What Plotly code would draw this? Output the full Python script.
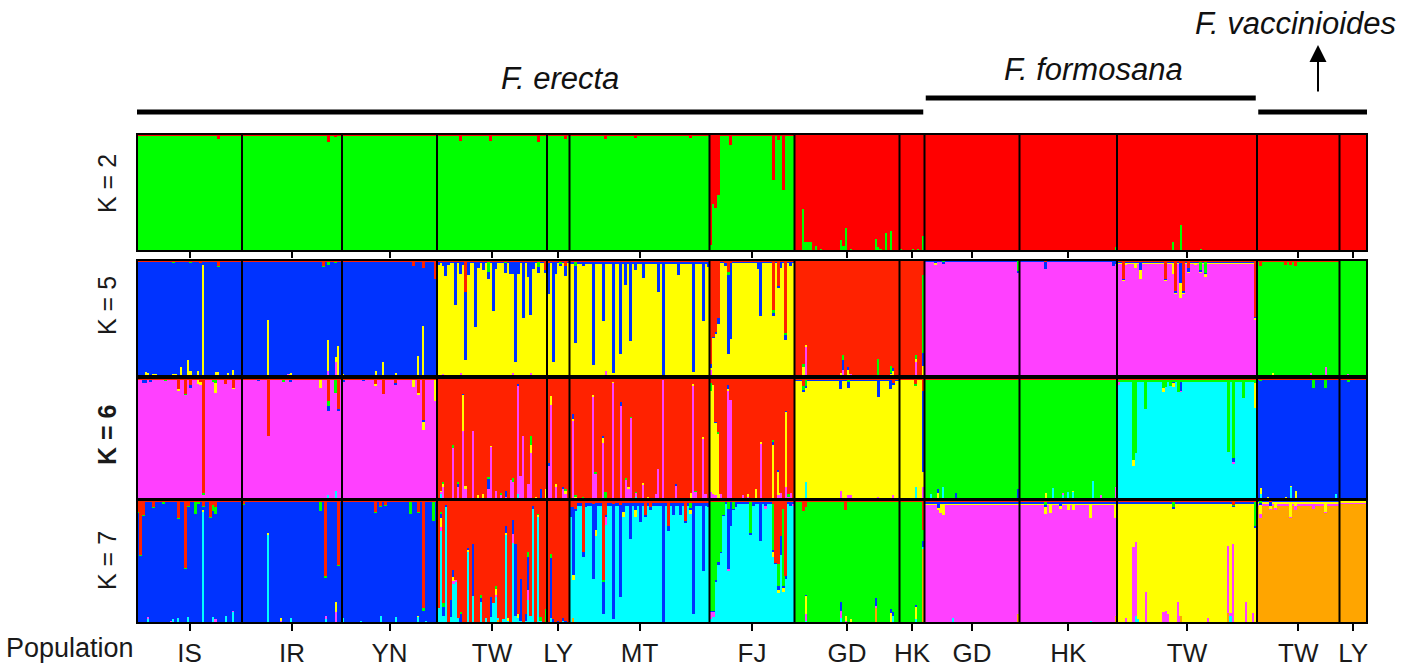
import plotly.graph_objects as go

W, H = 1418, 668

# ---------------- populations ----------------
POP_KEYS = ["IS", "IR", "YN", "TW_e", "LY_e", "MT", "FJ", "GD_e", "HK_e",
            "GD_f", "HK_f", "TW_f", "TW_v", "LY_v"]
POP_LABELS = ["IS", "IR", "YN", "TW", "LY", "MT", "FJ", "GD", "HK",
              "GD", "HK", "TW", "TW", "LY"]
POP_SIZES = [42, 40, 38, 44, 9, 56, 34, 42, 10, 38, 39, 56, 33, 11]

SPECIES = ["F. erecta", "F. formosana", "F. vaccinioides"]
SPECIES_POPS = [9, 3, 2]  # number of populations per species (in order)

COLORS = {"green": "#00FF00", "red2": "#FF0000", "red": "#FF2200",
          "blue": "#0033FF", "yellow": "#FFFF00", "pink": "#FF40FF",
          "cyan": "#00FFFF", "orange": "#FFA500"}

# ---------------- K = 2 ----------------
K2_CLUSTERS = ["green", "red2"]
K2_DOMINANT = ["green"] * 7 + ["red2"] * 7
K2_BASELINE = [{"red2": 0.012}] * 7 + [{}] * 7
K2_ADMIX = [
    ("IS", 32, {"red2": 0.04}),
    ("IR", 31, {"red2": 0.02}), ("IR", 34, {"red2": 0.07}), ("IR", 37, {"red2": 0.025}),
    ("YN", 23, {"red2": 0.015}),
    ("TW_e", 9, {"red2": 0.06}), ("TW_e", 21, {"red2": 0.06}), ("TW_e", 25, {"red2": 0.02}),
    ("TW_e", 37, {"red2": 0.02}), ("TW_e", 40, {"red2": 0.07}),
    ("LY_e", 5, {"red2": 0.02}), ("LY_e", 7, {"red2": 0.045}),
    ("MT", 2, {"red2": 0.02}), ("MT", 14, {"red2": 0.04}), ("MT", 26, {"red2": 0.03}),
    ("MT", 48, {"red2": 0.035}),
    ("FJ", 0, {"red2": 0.95}), ("FJ", 1, {"red2": 0.6}), ("FJ", 2, {"red2": 0.63}),
    ("FJ", 3, {"red2": 0.52}), ("FJ", 8, {"red2": 0.09}), ("FJ", 25, {"red2": 0.39}),
    ("FJ", 26, {"red2": 0.02}), ("FJ", 27, {"red2": 0.055}), ("FJ", 29, {"red2": 0.48}),
    ("GD_e", 3, {"green": 0.36}), ("GD_e", 4, {"green": 0.08}), ("GD_e", 5, {"green": 0.075}),
    ("GD_e", 6, {"green": 0.075}), ("GD_e", 8, {"green": 0.04}), ("GD_e", 10, {"green": 0.015}),
    ("GD_e", 18, {"green": 0.09}), ("GD_e", 19, {"green": 0.04}), ("GD_e", 20, {"green": 0.2}),
    ("GD_e", 22, {"green": 0.02}), ("GD_e", 23, {"green": 0.01}), ("GD_e", 32, {"green": 0.1}),
    ("GD_e", 33, {"green": 0.03}), ("GD_e", 34, {"green": 0.02}), ("GD_e", 36, {"green": 0.15}),
    ("GD_e", 38, {"green": 0.17}),
    ("HK_e", 0, {"green": 0.015}), ("HK_e", 5, {"green": 0.015}), ("HK_e", 7, {"green": 0.015}),
    ("HK_e", 9, {"green": 0.13}),
    ("HK_f", 38, {"green": 0.03}),
    ("TW_f", 9, {"green": 0.01}), ("TW_f", 22, {"green": 0.08}), ("TW_f", 25, {"green": 0.22}),
    ("TW_f", 33, {"green": 0.015}), ("TW_f", 46, {"green": 0.01}),
]

# ---------------- K = 5 ----------------
K5_CLUSTERS = ["pink", "yellow", "blue", "green", "red"]
K5_DOMINANT = ["blue", "blue", "blue", "yellow", "yellow", "yellow", "yellow",
               "red", "red", "pink", "pink", "pink", "green", "green"]
K5_BASELINE = [{"red": 0.01}, {"red": 0.01}, {"red": 0.01},
               {"red": 0.01, "blue": 0.02}, {"red": 0.01, "blue": 0.02},
               {"red": 0.012, "blue": 0.02}, {"red": 0.01, "blue": 0.015},
               {}, {}, {"blue": 0.012, "red": 0.005}, {"blue": 0.012, "red": 0.005},
               {"red": 0.01, "yellow": 0.01, "blue": 0.01}, {"red": 0.01}, {"red": 0.005}]
K5_ADMIX = [
    ("IS", 3, {"yellow": 0.035}), ("IS", 4, {"yellow": 0.03}), ("IS", 6, {"yellow": 0.02}),
    ("IS", 7, {"yellow": 0.02}), ("IS", 13, {"yellow": 0.01}), ("IS", 14, {"yellow": 0.02, "green": 0.01}),
    ("IS", 15, {"yellow": 0.02}), ("IS", 17, {"yellow": 0.08}), ("IS", 20, {"yellow": 0.14}),
    ("IS", 21, {"yellow": 0.04, "green": 0.01}), ("IS", 24, {"yellow": 0.04}), ("IS", 25, {"red": 0.03}),
    ("IS", 26, {"yellow": 0.96}), ("IS", 31, {"yellow": 0.035}),
    ("IS", 32, {"yellow": 0.035, "red": 0.05, "green": 0.01}), ("IS", 35, {"yellow": 0.01}),
    ("IS", 36, {"yellow": 0.03}), ("IS", 38, {"yellow": 0.05}),
    ("IR", 10, {"yellow": 0.48}), ("IR", 18, {"pink": 0.015}), ("IR", 19, {"yellow": 0.03}),
    ("IR", 32, {"red": 0.05, "green": 0.01}),
    ("IR", 34, {"yellow": 0.27, "pink": 0.04, "green": 0.02, "red": 0.02}),
    ("IR", 37, {"pink": 0.12, "yellow": 0.04, "red": 0.01, "green": 0.02}),
    ("IR", 38, {"yellow": 0.26, "red": 0.01}),
    ("YN", 0, {"yellow": 0.02}), ("YN", 8, {"yellow": 0.01}), ("YN", 13, {"yellow": 0.04}),
    ("YN", 16, {"yellow": 0.12}), ("YN", 21, {"yellow": 0.03}), ("YN", 28, {"red": 0.05}),
    ("YN", 30, {"yellow": 0.17, "red": 0.02}), ("YN", 32, {"yellow": 0.43, "red": 0.07}),
    ("YN", 37, {"red": 0.16}),
    ("TW_e", 0, {"blue": 0.03}), ("TW_e", 2, {"blue": 0.04, "pink": 0.02}), ("TW_e", 3, {"blue": 0.13}),
    ("TW_e", 4, {"blue": 0.03}), ("TW_e", 7, {"blue": 0.38}), ("TW_e", 9, {"blue": 0.11, "pink": 0.03}),
    ("TW_e", 10, {"blue": 0.03}), ("TW_e", 11, {"red": 0.28, "blue": 0.58}), ("TW_e", 12, {"blue": 0.12}),
    ("TW_e", 15, {"blue": 0.57}), ("TW_e", 16, {"blue": 0.06}), ("TW_e", 18, {"blue": 0.08}),
    ("TW_e", 20, {"green": 0.09, "blue": 0.06}), ("TW_e", 22, {"blue": 0.43}), ("TW_e", 23, {"blue": 0.07}),
    ("TW_e", 25, {"pink": 0.01}), ("TW_e", 27, {"green": 0.02, "blue": 0.08}), ("TW_e", 29, {"blue": 0.11}),
    ("TW_e", 30, {"blue": 0.11, "pink": 0.03}), ("TW_e", 31, {"blue": 0.87}), ("TW_e", 32, {"blue": 0.11}),
    ("TW_e", 34, {"blue": 0.49}), ("TW_e", 36, {"blue": 0.14}), ("TW_e", 37, {"blue": 0.46, "pink": 0.03}),
    ("TW_e", 38, {"blue": 0.07}), ("TW_e", 40, {"green": 0.05, "blue": 0.05}), ("TW_e", 43, {"red": 0.09}),
    ("LY_e", 0, {"blue": 0.26, "red": 0.03}), ("LY_e", 2, {"blue": 0.87}), ("LY_e", 3, {"blue": 0.11}),
    ("LY_e", 5, {"green": 0.01, "red": 0.02}), ("LY_e", 7, {"blue": 0.09, "red": 0.05}),
    ("MT", 2, {"blue": 0.66, "green": 0.04}), ("MT", 5, {"blue": 0.04}), ("MT", 9, {"blue": 0.89}),
    ("MT", 13, {"blue": 0.51}), ("MT", 14, {"pink": 0.04}), ("MT", 17, {"blue": 0.96}),
    ("MT", 20, {"blue": 0.8}), ("MT", 22, {"blue": 0.2}), ("MT", 24, {"blue": 0.69}),
    ("MT", 26, {"blue": 0.07}), ("MT", 29, {"blue": 0.14}), ("MT", 35, {"blue": 0.26}),
    ("MT", 37, {"blue": 0.985}), ("MT", 43, {"blue": 0.12}), ("MT", 49, {"blue": 0.95}),
    ("MT", 53, {"blue": 0.51}), ("MT", 55, {"blue": 0.05}),
    ("FJ", 0, {"red": 0.9, "blue": 0.03, "pink": 0.05}), ("FJ", 1, {"red": 0.66, "blue": 0.01}),
    ("FJ", 2, {"red": 0.62, "blue": 0.02}), ("FJ", 3, {"red": 0.5, "blue": 0.05}),
    ("FJ", 6, {"red": 0.03}), ("FJ", 7, {"red": 0.1, "green": 0.03, "blue": 0.68}),
    ("FJ", 8, {"red": 0.03, "blue": 0.65}), ("FJ", 19, {"blue": 0.07}), ("FJ", 20, {"blue": 0.47}),
    ("FJ", 25, {"red": 0.43, "green": 0.03}), ("FJ", 27, {"red": 0.22, "blue": 0.02}),
    ("FJ", 28, {"blue": 0.06}), ("FJ", 30, {"red": 0.63, "green": 0.01, "blue": 0.05}),
    ("FJ", 32, {"blue": 0.04}),
    ("GD_e", 3, {"yellow": 0.08, "green": 0.02}), ("GD_e", 4, {"pink": 0.25, "yellow": 0.02}),
    ("GD_e", 7, {"blue": 0.01}), ("GD_e", 18, {"pink": 0.015, "yellow": 0.01}),
    ("GD_e", 19, {"green": 0.04, "blue": 0.09, "pink": 0.05}), ("GD_e", 21, {"blue": 0.03, "yellow": 0.05}),
    ("GD_e", 22, {"pink": 0.015}), ("GD_e", 33, {"green": 0.14, "blue": 0.01}),
    ("GD_e", 38, {"green": 0.06, "yellow": 0.02, "blue": 0.01}), ("GD_e", 39, {"blue": 0.03, "yellow": 0.04}),
    ("HK_e", 4, {"blue": 0.01}), ("HK_e", 6, {"pink": 0.12, "yellow": 0.03, "green": 0.03}),
    ("HK_e", 7, {"blue": 0.01}), ("HK_e", 9, {"green": 0.67, "blue": 0.11, "yellow": 0.09}),
    ("GD_f", 4, {"yellow": 0.02, "blue": 0.02}), ("GD_f", 7, {"green": 0.01}), ("GD_f", 37, {"green": 0.09}),
    ("HK_f", 10, {"red": 0.02, "blue": 0.06}), ("HK_f", 37, {"blue": 0.05}), ("HK_f", 38, {"blue": 0.03}),
    ("TW_f", 2, {"red": 0.16}), ("TW_f", 3, {"yellow": 0.02}), ("TW_f", 7, {"yellow": 0.05}),
    ("TW_f", 9, {"blue": 0.08, "yellow": 0.07}), ("TW_f", 19, {"red": 0.16}), ("TW_f", 22, {"yellow": 0.1}),
    ("TW_f", 23, {"red": 0.27}), ("TW_f", 25, {"red": 0.03, "blue": 0.17, "yellow": 0.13}),
    ("TW_f", 26, {"red": 0.27}), ("TW_f", 28, {"red": 0.07, "blue": 0.03}), ("TW_f", 31, {"yellow": 0.02}),
    ("TW_f", 33, {"green": 0.08}), ("TW_f", 35, {"green": 0.1, "yellow": 0.03}),
    ("TW_f", 55, {"red": 0.49, "blue": 0.01}),
    ("TW_v", 1, {"red": 0.05}), ("TW_v", 6, {"yellow": 0.03}), ("TW_v", 11, {"red": 0.04}),
    ("TW_v", 13, {"red": 0.04}), ("TW_v", 15, {"red": 0.05}), ("TW_v", 21, {"pink": 0.03}),
    ("TW_v", 27, {"pink": 0.08}), ("TW_v", 30, {"red": 0.015}),
    ("LY_v", 3, {"pink": 0.02}),
]

# ---------------- K = 6 ----------------
K6_CLUSTERS = ["cyan", "pink", "yellow", "blue", "green", "red"]
K6_DOMINANT = ["pink", "pink", "pink", "red", "red", "red", "red",
               "yellow", "yellow", "green", "green", "cyan", "blue", "blue"]
K6_BASELINE = [{"red": 0.012}, {"red": 0.012}, {"red": 0.012}, {}, {}, {}, {},
               {"red": 0.01, "blue": 0.01}, {"red": 0.01}, {"red": 0.01}, {"red": 0.01},
               {"red": 0.015, "green": 0.01}, {"red": 0.012}, {"red": 0.012}]
K6_ADMIX = [
    ("IS", 2, {"blue": 0.03}), ("IS", 3, {"blue": 0.03}), ("IS", 5, {"blue": 0.02}),
    ("IS", 11, {"green": 0.01}), ("IS", 16, {"red": 0.09, "yellow": 0.01}),
    ("IS", 19, {"red": 0.13, "green": 0.01}), ("IS", 21, {"red": 0.06, "blue": 0.02}),
    ("IS", 24, {"yellow": 0.04}), ("IS", 25, {"red": 0.03, "yellow": 0.03}),
    ("IS", 26, {"red": 0.95, "green": 0.01}), ("IS", 30, {"green": 0.02}),
    ("IS", 31, {"yellow": 0.08, "green": 0.03}), ("IS", 35, {"red": 0.05}),
    ("IS", 38, {"red": 0.08, "yellow": 0.01}),
    ("IR", 6, {"blue": 0.01}), ("IR", 10, {"red": 0.48}), ("IR", 16, {"green": 0.02}),
    ("IR", 19, {"blue": 0.02}), ("IR", 31, {"yellow": 0.07}),
    ("IR", 34, {"red": 0.19, "green": 0.04, "blue": 0.04, "cyan": 0.03}),
    ("IR", 37, {"green": 0.11, "red": 0.01, "cyan": 0.07}), ("IR", 38, {"red": 0.26, "blue": 0.01}),
    ("YN", 0, {"blue": 0.02}), ("YN", 8, {"blue": 0.01}), ("YN", 13, {"red": 0.05, "yellow": 0.02}),
    ("YN", 16, {"red": 0.13}), ("YN", 21, {"red": 0.04, "blue": 0.01}), ("YN", 28, {"yellow": 0.06}),
    ("YN", 30, {"red": 0.12, "yellow": 0.02}), ("YN", 32, {"red": 0.35, "blue": 0.01, "yellow": 0.07}),
    ("YN", 37, {"yellow": 0.18}),
    ("TW_e", 1, {"cyan": 0.04, "pink": 0.02, "yellow": 0.01}),
    ("TW_e", 2, {"pink": 0.1, "yellow": 0.03, "green": 0.01}), ("TW_e", 6, {"pink": 0.42, "green": 0.03}),
    ("TW_e", 8, {"pink": 0.1, "blue": 0.03, "green": 0.01}),
    ("TW_e", 10, {"pink": 0.56, "yellow": 0.3, "blue": 0.01}), ("TW_e", 11, {"pink": 0.08, "yellow": 0.03}),
    ("TW_e", 14, {"pink": 0.56}), ("TW_e", 16, {"yellow": 0.03}), ("TW_e", 18, {"yellow": 0.04}),
    ("TW_e", 20, {"pink": 0.08, "blue": 0.09, "green": 0.01}), ("TW_e", 21, {"pink": 0.43, "yellow": 0.01}),
    ("TW_e", 23, {"pink": 0.07}), ("TW_e", 25, {"pink": 0.03, "green": 0.02}),
    ("TW_e", 27, {"blue": 0.05, "pink": 0.02}), ("TW_e", 29, {"pink": 0.16}),
    ("TW_e", 30, {"pink": 0.14, "green": 0.03}), ("TW_e", 32, {"cyan": 0.04, "pink": 0.9, "blue": 0.01}),
    ("TW_e", 33, {"pink": 0.19}), ("TW_e", 34, {"pink": 0.52}), ("TW_e", 36, {"pink": 0.12}),
    ("TW_e", 37, {"pink": 0.38, "yellow": 0.07, "green": 0.07}), ("TW_e", 39, {"yellow": 0.02}),
    ("TW_e", 41, {"blue": 0.08}), ("TW_e", 43, {"yellow": 0.08}),
    ("LY_e", 0, {"pink": 0.27, "blue": 0.03}), ("LY_e", 1, {"pink": 0.78, "yellow": 0.07}),
    ("LY_e", 3, {"pink": 0.1, "yellow": 0.02}), ("LY_e", 6, {"pink": 0.08, "blue": 0.02}),
    ("LY_e", 7, {"pink": 0.04, "yellow": 0.03, "green": 0.01}),
    ("MT", 1, {"pink": 0.65, "yellow": 0.01, "blue": 0.04}), ("MT", 2, {"yellow": 0.02, "green": 0.01}),
    ("MT", 5, {"green": 0.02}), ("MT", 9, {"pink": 0.85, "yellow": 0.01}),
    ("MT", 10, {"pink": 0.21, "green": 0.01}), ("MT", 13, {"pink": 0.46, "yellow": 0.05, "blue": 0.01}),
    ("MT", 14, {"green": 0.06}), ("MT", 17, {"pink": 0.96, "yellow": 0.01}),
    ("MT", 20, {"pink": 0.77, "blue": 0.03}), ("MT", 22, {"pink": 0.16, "green": 0.01}),
    ("MT", 23, {"pink": 0.09, "yellow": 0.01}), ("MT", 24, {"pink": 0.67, "green": 0.01}),
    ("MT", 26, {"pink": 0.03, "cyan": 0.02, "green": 0.01}), ("MT", 29, {"pink": 0.12, "yellow": 0.01}),
    ("MT", 31, {"yellow": 0.02}), ("MT", 34, {"pink": 0.04}), ("MT", 35, {"pink": 0.25}),
    ("MT", 37, {"pink": 0.98}), ("MT", 42, {"pink": 0.11, "blue": 0.01}), ("MT", 46, {"blue": 0.01}),
    ("MT", 48, {"yellow": 0.05}), ("MT", 49, {"pink": 0.94, "yellow": 0.01}),
    ("MT", 50, {"pink": 0.06, "green": 0.01}), ("MT", 53, {"pink": 0.5, "yellow": 0.01}),
    ("MT", 54, {"pink": 0.04}),
    ("FJ", 0, {"yellow": 0.83, "green": 0.07, "pink": 0.06}), ("FJ", 1, {"yellow": 0.9, "pink": 0.04}),
    ("FJ", 2, {"yellow": 0.6, "blue": 0.01, "pink": 0.03}), ("FJ", 3, {"yellow": 0.54, "green": 0.01}),
    ("FJ", 4, {"pink": 0.04}), ("FJ", 7, {"pink": 0.9, "blue": 0.03, "yellow": 0.01}),
    ("FJ", 8, {"pink": 0.82}), ("FJ", 13, {"pink": 0.03}), ("FJ", 15, {"pink": 0.02, "yellow": 0.02}),
    ("FJ", 18, {"yellow": 0.08}), ("FJ", 20, {"pink": 0.46, "yellow": 0.01}),
    ("FJ", 25, {"yellow": 0.45, "blue": 0.02, "green": 0.02}),
    ("FJ", 27, {"yellow": 0.2, "blue": 0.01, "pink": 0.03}), ("FJ", 28, {"pink": 0.05}),
    ("FJ", 30, {"yellow": 0.62, "pink": 0.1, "blue": 0.01}), ("FJ", 31, {"green": 0.02, "pink": 0.02}),
    ("FJ", 32, {"pink": 0.05}),
    ("GD_e", 3, {"red": 0.07, "green": 0.03}), ("GD_e", 4, {"cyan": 0.14, "green": 0.06}),
    ("GD_e", 18, {"blue": 0.08, "pink": 0.07}), ("GD_e", 21, {"blue": 0.05, "green": 0.02, "pink": 0.03}),
    ("GD_e", 22, {"pink": 0.03}), ("GD_e", 33, {"blue": 0.15, "pink": 0.02}), ("GD_e", 38, {"blue": 0.08}),
    ("GD_e", 39, {"red": 0.04, "pink": 0.03}),
    ("HK_e", 6, {"cyan": 0.1, "red": 0.05, "green": 0.02}),
    ("HK_e", 9, {"red": 0.11, "blue": 0.67, "pink": 0.1}),
    ("GD_f", 2, {"cyan": 0.04}), ("GD_f", 5, {"yellow": 0.05, "blue": 0.03}), ("GD_f", 7, {"cyan": 0.1}),
    ("GD_f", 12, {"blue": 0.05}), ("GD_f", 37, {"blue": 0.08}),
    ("HK_f", 10, {"yellow": 0.05}), ("HK_f", 13, {"cyan": 0.09}), ("HK_f", 17, {"cyan": 0.03, "pink": 0.02}),
    ("HK_f", 19, {"cyan": 0.06}), ("HK_f", 21, {"cyan": 0.06, "yellow": 0.01}),
    ("HK_f", 29, {"cyan": 0.15, "red": 0.02}), ("HK_f", 32, {"pink": 0.03}), ("HK_f", 38, {"pink": 0.1}),
    ("TW_f", 0, {"pink": 0.02, "green": 0.02}), ("TW_f", 6, {"green": 0.66, "yellow": 0.05}),
    ("TW_f", 7, {"green": 0.6, "red": 0.02}), ("TW_f", 11, {"green": 0.24}),
    ("TW_f", 18, {"green": 0.07, "yellow": 0.03}), ("TW_f", 19, {"green": 0.06}),
    ("TW_f", 21, {"green": 0.05}), ("TW_f", 22, {"yellow": 0.03, "blue": 0.02}),
    ("TW_f", 24, {"green": 0.1}), ("TW_f", 25, {"blue": 0.08, "pink": 0.01}),
    ("TW_f", 44, {"green": 0.6}), ("TW_f", 46, {"green": 0.65, "pink": 0.01, "blue": 0.03}),
    ("TW_f", 50, {"green": 0.15}), ("TW_f", 55, {"yellow": 0.2, "green": 0.03}),
    ("TW_v", 1, {"yellow": 0.05, "cyan": 0.04, "green": 0.01}), ("TW_v", 4, {"yellow": 0.02}),
    ("TW_v", 11, {"yellow": 0.02}), ("TW_v", 13, {"cyan": 0.1, "yellow": 0.01}),
    ("TW_v", 15, {"yellow": 0.07}), ("TW_v", 22, {"green": 0.07}), ("TW_v", 27, {"green": 0.07}),
    ("TW_v", 31, {"cyan": 0.04}),
    ("LY_v", 3, {"green": 0.02}),
]

# ---------------- K = 7 ----------------
K7_CLUSTERS = ["orange", "cyan", "pink", "yellow", "blue", "green", "red"]
K7_DOMINANT = ["blue", "blue", "blue", "red", "red", "cyan", "cyan",
               "green", "green", "pink", "pink", "yellow", "orange", "orange"]
K7_BASELINE = [{"red": 0.012, "green": 0.004}, {"red": 0.012, "green": 0.004},
               {"red": 0.012, "green": 0.004}, {}, {}, {"red": 0.025, "blue": 0.02},
               {"red": 0.02, "blue": 0.01}, {"red": 0.01}, {"red": 0.01},
               {"red": 0.01, "blue": 0.01, "yellow": 0.015, "green": 0.005},
               {"red": 0.01, "blue": 0.01, "yellow": 0.015, "green": 0.005},
               {"red": 0.01, "blue": 0.01, "green": 0.005},
               {"yellow": 0.02, "pink": 0.01, "blue": 0.01, "red": 0.005},
               {"yellow": 0.015, "pink": 0.005, "red": 0.005}]
K7_ADMIX = [
    ("IS", 0, {"red": 0.1}), ("IS", 1, {"red": 0.45}), ("IS", 2, {"red": 0.12, "green": 0.01}),
    ("IS", 4, {"cyan": 0.04, "pink": 0.01}), ("IS", 6, {"red": 0.06}), ("IS", 10, {"green": 0.02}),
    ("IS", 13, {"pink": 0.015}), ("IS", 14, {"cyan": 0.03}), ("IS", 16, {"red": 0.15, "cyan": 0.04}),
    ("IS", 19, {"red": 0.55, "green": 0.01}), ("IS", 20, {"red": 0.05, "cyan": 0.05}),
    ("IS", 23, {"green": 0.09, "red": 0.02}), ("IS", 24, {"green": 0.02}),
    ("IS", 26, {"cyan": 0.9, "yellow": 0.02, "red": 0.05}), ("IS", 29, {"red": 0.14}),
    ("IS", 30, {"green": 0.05, "red": 0.04, "cyan": 0.05}),
    ("IS", 31, {"red": 0.06, "green": 0.05, "pink": 0.03}), ("IS", 35, {"cyan": 0.06}),
    ("IS", 38, {"cyan": 0.09, "pink": 0.01}),
    ("IR", 0, {"red": 0.03, "green": 0.01}), ("IR", 10, {"cyan": 0.72, "yellow": 0.01}),
    ("IR", 15, {"yellow": 0.02, "pink": 0.02}), ("IR", 19, {"cyan": 0.04}), ("IR", 31, {"green": 0.08}),
    ("IR", 33, {"red": 0.62, "green": 0.01, "cyan": 0.03, "pink": 0.03}),
    ("IR", 37, {"yellow": 0.08, "pink": 0.09}), ("IR", 38, {"red": 0.53}),
    ("YN", 0, {"cyan": 0.04}), ("YN", 7, {"cyan": 0.02}), ("YN", 13, {"red": 0.1}),
    ("YN", 15, {"cyan": 0.06, "red": 0.05}), ("YN", 17, {"red": 0.04}), ("YN", 21, {"cyan": 0.05}),
    ("YN", 27, {"green": 0.09, "red": 0.02}), ("YN", 30, {"red": 0.1, "cyan": 0.05, "yellow": 0.01}),
    ("YN", 32, {"red": 0.88, "green": 0.02}), ("YN", 33, {"cyan": 0.02}), ("YN", 36, {"green": 0.16}),
    ("TW_e", 0, {"cyan": 0.12}),
    ("TW_e", 1, {"cyan": 0.75, "pink": 0.03, "yellow": 0.07, "blue": 0.04, "green": 0.01}),
    ("TW_e", 2, {"cyan": 0.06, "blue": 0.07, "green": 0.03}), ("TW_e", 3, {"cyan": 0.95, "blue": 0.01}),
    ("TW_e", 5, {"blue": 0.14, "cyan": 0.05}),
    ("TW_e", 6, {"cyan": 0.32, "pink": 0.02, "yellow": 0.03, "blue": 0.06}),
    ("TW_e", 7, {"cyan": 0.33, "pink": 0.02}), ("TW_e", 8, {"cyan": 0.04}),
    ("TW_e", 9, {"blue": 0.07, "green": 0.01, "cyan": 0.01}),
    ("TW_e", 12, {"cyan": 0.58, "yellow": 0.02, "blue": 0.01}), ("TW_e", 14, {"cyan": 0.22, "blue": 0.42}),
    ("TW_e", 17, {"cyan": 0.17, "blue": 0.03, "green": 0.03}), ("TW_e", 19, {"cyan": 0.04}),
    ("TW_e", 21, {"blue": 0.16, "cyan": 0.05}), ("TW_e", 22, {"cyan": 0.16}),
    ("TW_e", 23, {"cyan": 0.21, "pink": 0.02, "yellow": 0.05, "green": 0.02}),
    ("TW_e", 24, {"orange": 0.03, "cyan": 0.01}), ("TW_e", 26, {"cyan": 0.03}),
    ("TW_e", 27, {"cyan": 0.72, "blue": 0.06, "yellow": 0.01}), ("TW_e", 28, {"cyan": 0.02, "yellow": 0.02}),
    ("TW_e", 30, {"cyan": 0.65, "pink": 0.07, "blue": 0.12}), ("TW_e", 31, {"cyan": 0.06, "blue": 0.58}),
    ("TW_e", 32, {"cyan": 0.04, "yellow": 0.03}), ("TW_e", 33, {"blue": 0.34, "cyan": 0.02}),
    ("TW_e", 35, {"blue": 0.05, "cyan": 0.02}),
    ("TW_e", 36, {"green": 0.04, "blue": 0.27, "pink": 0.08, "cyan": 0.19}),
    ("TW_e", 37, {"cyan": 0.06}), ("TW_e", 38, {"cyan": 0.93, "blue": 0.02}),
    ("TW_e", 40, {"cyan": 0.86, "yellow": 0.02, "green": 0.01}), ("TW_e", 41, {"green": 0.03, "cyan": 0.02}),
    ("TW_e", 43, {"green": 0.11}),
    ("LY_e", 1, {"green": 0.03, "blue": 0.49, "cyan": 0.04}), ("LY_e", 2, {"blue": 0.03}),
    ("LY_e", 4, {"blue": 0.02}), ("LY_e", 6, {"cyan": 0.02, "blue": 0.02}), ("LY_e", 7, {"blue": 0.02}),
    ("MT", 0, {"red": 0.06, "blue": 0.08}),
    ("MT", 1, {"red": 0.06, "blue": 0.55, "yellow": 0.04, "orange": 0.04}), ("MT", 2, {"red": 0.07}),
    ("MT", 5, {"red": 0.42, "blue": 0.04}), ("MT", 6, {"blue": 0.03}), ("MT", 9, {"blue": 0.61, "red": 0.03}),
    ("MT", 10, {"blue": 0.22, "yellow": 0.05}), ("MT", 13, {"red": 0.65, "green": 0.02, "blue": 0.26}),
    ("MT", 14, {"red": 0.12, "pink": 0.06}), ("MT", 17, {"blue": 0.94, "red": 0.03}),
    ("MT", 20, {"blue": 0.75, "red": 0.04}), ("MT", 21, {"blue": 0.07, "yellow": 0.04}),
    ("MT", 24, {"blue": 0.29}), ("MT", 26, {"yellow": 0.05, "blue": 0.06}), ("MT", 28, {"blue": 0.15}),
    ("MT", 30, {"red": 0.12}), ("MT", 32, {"red": 0.06}), ("MT", 37, {"blue": 0.98}),
    ("MT", 39, {"red": 0.21, "blue": 0.04}), ("MT", 41, {"blue": 0.1}), ("MT", 44, {"blue": 0.1}),
    ("MT", 46, {"red": 0.17}), ("MT", 48, {"green": 0.04, "yellow": 0.03}), ("MT", 49, {"blue": 0.9}),
    ("MT", 53, {"blue": 0.55}), ("MT", 55, {"blue": 0.03}),
    ("FJ", 0, {"green": 0.88, "pink": 0.06}), ("FJ", 1, {"green": 0.88, "pink": 0.04}),
    ("FJ", 2, {"green": 0.63}), ("FJ", 3, {"green": 0.48, "blue": 0.03}), ("FJ", 4, {"green": 0.4}),
    ("FJ", 5, {"green": 0.1}), ("FJ", 7, {"blue": 0.49, "pink": 0.01, "green": 0.05}),
    ("FJ", 8, {"blue": 0.19}), ("FJ", 9, {"green": 0.05}), ("FJ", 10, {"blue": 0.04}),
    ("FJ", 16, {"green": 0.25}), ("FJ", 17, {"blue": 0.03}), ("FJ", 20, {"blue": 0.31}),
    ("FJ", 22, {"blue": 0.03, "pink": 0.02}), ("FJ", 25, {"green": 0.38, "red": 0.03, "yellow": 0.04}),
    ("FJ", 26, {"red": 0.51}), ("FJ", 27, {"red": 0.52, "green": 0.18, "blue": 0.03, "yellow": 0.03}),
    ("FJ", 28, {"red": 0.29, "blue": 0.16}), ("FJ", 29, {"green": 0.63, "yellow": 0.04, "red": 0.07}),
    ("FJ", 30, {"red": 0.62, "blue": 0.02}), ("FJ", 32, {"blue": 0.03}), ("FJ", 33, {"pink": 0.02}),
    ("GD_e", 3, {"red": 0.09}), ("GD_e", 4, {"red": 0.06, "yellow": 0.15, "pink": 0.05, "cyan": 0.02, "blue": 0.01}),
    ("GD_e", 18, {"blue": 0.07, "cyan": 0.04, "pink": 0.06}),
    ("GD_e", 20, {"red": 0.08, "yellow": 0.04, "pink": 0.02}), ("GD_e", 22, {"yellow": 0.02, "cyan": 0.01}),
    ("GD_e", 32, {"orange": 0.12, "blue": 0.06, "pink": 0.02}), ("GD_e", 38, {"yellow": 0.08, "blue": 0.03}),
    ("GD_e", 39, {"blue": 0.03, "cyan": 0.06}),
    ("HK_e", 4, {"blue": 0.01}), ("HK_e", 6, {"yellow": 0.1, "blue": 0.02, "cyan": 0.03}),
    ("HK_e", 9, {"red": 0.24, "blue": 0.05, "cyan": 0.02, "orange": 0.6}),
    ("GD_f", 5, {"blue": 0.05}), ("GD_f", 6, {"yellow": 0.08}), ("GD_f", 7, {"yellow": 0.1}),
    ("GD_f", 11, {"cyan": 0.04}), ("GD_f", 37, {"orange": 0.07}),
    ("HK_f", 10, {"yellow": 0.06, "green": 0.03}), ("HK_f", 12, {"yellow": 0.08}),
    ("HK_f", 16, {"blue": 0.03, "yellow": 0.03}), ("HK_f", 19, {"yellow": 0.06}),
    ("HK_f", 21, {"yellow": 0.06}), ("HK_f", 28, {"yellow": 0.12, "cyan": 0.02}),
    ("HK_f", 38, {"yellow": 0.12, "orange": 0.06}),
    ("TW_f", 3, {"pink": 0.04}), ("TW_f", 6, {"pink": 0.62}), ("TW_f", 7, {"pink": 0.6, "cyan": 0.06}),
    ("TW_f", 8, {"cyan": 0.03}), ("TW_f", 11, {"pink": 0.25}), ("TW_f", 18, {"pink": 0.09}),
    ("TW_f", 19, {"pink": 0.1}), ("TW_f", 20, {"pink": 0.07}), ("TW_f", 22, {"green": 0.05}),
    ("TW_f", 24, {"pink": 0.17}), ("TW_f", 25, {"orange": 0.06}), ("TW_f", 36, {"pink": 0.04}),
    ("TW_f", 44, {"pink": 0.55, "orange": 0.08}), ("TW_f", 45, {"pink": 0.02, "cyan": 0.06}),
    ("TW_f", 46, {"pink": 0.64, "red": 0.04}), ("TW_f", 51, {"pink": 0.17}), ("TW_f", 54, {"pink": 0.08}),
    ("TW_f", 55, {"green": 0.2}),
    ("TW_v", 1, {"yellow": 0.08, "pink": 0.03, "green": 0.02}), ("TW_v", 5, {"blue": 0.03, "red": 0.02}),
    ("TW_v", 7, {"yellow": 0.05}), ("TW_v", 13, {"yellow": 0.12}),
    ("TW_v", 15, {"pink": 0.04, "yellow": 0.03}), ("TW_v", 22, {"pink": 0.04}),
    ("TW_v", 27, {"yellow": 0.08}),
]

PANELS = [
    ("K = 2", K2_CLUSTERS, K2_DOMINANT, K2_BASELINE, K2_ADMIX),
    ("K = 5", K5_CLUSTERS, K5_DOMINANT, K5_BASELINE, K5_ADMIX),
    ("<b>K = 6</b>", K6_CLUSTERS, K6_DOMINANT, K6_BASELINE, K6_ADMIX),
    ("K = 7", K7_CLUSTERS, K7_DOMINANT, K7_BASELINE, K7_ADMIX),
]

# pixel layout of the four panels (top, bottom)
PANEL_PX = [(134, 251), (260, 376), (378, 499), (500, 623)]
K_LABEL_Y = [183, 305, 435, 560]
X_LEFT, X_RIGHT = 137, 1367

N = sum(POP_SIZES)
starts = []
s = 0
for n in POP_SIZES:
    starts.append(s)
    s += n
offsets = dict(zip(POP_KEYS, starts))


def build(clusters, dominant, baseline, admix):
    vals = {c: [0.0] * N for c in clusters}
    adm = {(k, i): comp for k, i, comp in admix}
    for p, key in enumerate(POP_KEYS):
        for i in range(POP_SIZES[p]):
            comp = dict(baseline[p])
            comp.update(adm.get((key, i), {}))
            dom = dominant[p]
            comp.pop(dom, None)
            tot = sum(comp.values())
            if tot > 1:
                comp = {c: v / tot for c, v in comp.items()}
                tot = 1.0
            comp[dom] = 1.0 - tot
            for c, v in comp.items():
                vals[c][offsets[key] + i] = v
    return vals


fig = go.Figure()
layout = {}
shapes = []
annotations = []
xs = list(range(N))
centers = [st + n / 2 - 0.5 for st, n in zip(starts, POP_SIZES)]
boundaries = [st - 0.5 for st in starts[1:]]

for k, (label, clusters, dominant, baseline, admix) in enumerate(PANELS):
    ax = "" if k == 0 else str(k + 1)
    vals = build(clusters, dominant, baseline, admix)
    for c in clusters:
        fig.add_trace(go.Bar(x=xs, y=vals[c], width=1.02,
                             marker=dict(color=COLORS[c], line=dict(width=0)),
                             xaxis="x" + ax, yaxis="y" + ax,
                             showlegend=False, hoverinfo="skip"))
    top, bot = PANEL_PX[k]
    xa = dict(domain=[X_LEFT / W, X_RIGHT / W], range=[-0.5, N - 0.5],
              showgrid=False, zeroline=False, showline=False, anchor="y" + ax,
              tickvals=centers, fixedrange=True)
    if k == 3:
        xa.update(ticktext=POP_LABELS, ticks="outside", ticklen=7, tickwidth=2,
                  tickcolor="black", showticklabels=True,
                  tickfont=dict(size=26, color="#1a1a1a"))
    elif k == 0:
        xa.update(ticks="outside", ticklen=6, tickwidth=2, tickcolor="black",
                  showticklabels=False)
    else:
        xa.update(ticks="", showticklabels=False)
    ya = dict(domain=[1 - bot / H, 1 - top / H], range=[0, 1], showgrid=False,
              zeroline=False, showticklabels=False, ticks="", anchor="x" + ax,
              fixedrange=True)
    layout["xaxis" + ax] = xa
    layout["yaxis" + ax] = ya
    for b in boundaries:
        shapes.append(dict(type="line", xref="x" + ax, yref="y" + ax + " domain",
                           x0=b, x1=b, y0=0, y1=1, line=dict(color="black", width=2)))
    shapes.append(dict(type="rect", xref="x" + ax + " domain", yref="y" + ax + " domain",
                       x0=0, x1=1, y0=0, y1=1, line=dict(color="black", width=2)))
    annotations.append(dict(text=label, x=107 / W, y=1 - K_LABEL_Y[k] / H, xref="paper",
                            yref="paper", textangle=-90, showarrow=False,
                            font=dict(size=25, color="#1a1a1a"), xanchor="center",
                            yanchor="middle"))

annotations.append(dict(text="Population", x=70 / W, y=1 - 648 / H, xref="paper", yref="paper",
                        showarrow=False, font=dict(size=27, color="#1a1a1a"),
                        xanchor="center", yanchor="middle"))

# species bars (built from population boundaries on the K=2 axis)
sp_edges = [-0.5]
acc = 0
for npop in SPECIES_POPS:
    acc += npop
    sp_edges.append(starts[acc] - 0.5 if acc < len(starts) else N - 0.5)
sp_bar_y = [112, 98, 112]
sp_text = [(560, 79), (1093, 69), (1295, 24)]
for j, name in enumerate(SPECIES):
    x0 = sp_edges[j] + (0.5 if j > 0 else 0)
    x1 = sp_edges[j + 1] - (0.5 if j < 2 else 0)
    shapes.append(dict(type="line", xref="x", yref="paper", x0=x0, x1=x1,
                       y0=1 - sp_bar_y[j] / H, y1=1 - sp_bar_y[j] / H,
                       line=dict(color="black", width=5)))
    annotations.append(dict(text="<i>" + name + "</i>", x=sp_text[j][0] / W,
                            y=1 - sp_text[j][1] / H, xref="paper", yref="paper",
                            showarrow=False, font=dict(size=31, color="#111"),
                            xanchor="center", yanchor="middle"))
# arrow pointing to F. vaccinioides
annotations.append(dict(text="", x=1318 / W, y=1 - 45 / H, xref="paper", yref="paper",
                        showarrow=True, ax=0, ay=48, arrowhead=2, arrowsize=1.7,
                        arrowwidth=2, arrowcolor="black"))

fig.update_layout(width=W, height=H, margin=dict(l=0, r=0, t=0, b=0), autosize=False,
                  barmode="stack", bargap=0, plot_bgcolor="white", paper_bgcolor="white",
                  font=dict(family="Liberation Sans, Arial, Helvetica, sans-serif"),
                  shapes=shapes, annotations=annotations, **layout)
fig.write_html("out.html", config={"displayModeBar": False},
               post_script="document.body.style.margin='0px';document.body.style.overflow='hidden';")
